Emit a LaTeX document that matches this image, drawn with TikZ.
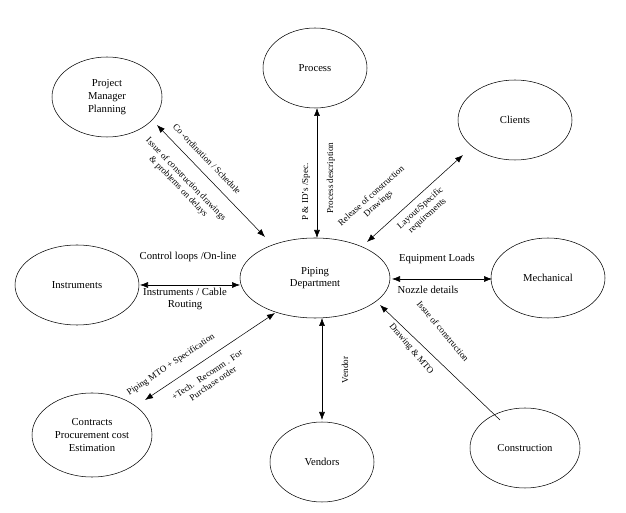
\documentclass[tikz,border=0pt]{standalone}
\usepackage{fontspec}
\setmainfont{Liberation Serif}
\usetikzlibrary{shapes.geometric,arrows.meta}
\begin{document}
\begin{tikzpicture}[x=0.75pt,y=-0.75pt,
  ell/.style={draw,ellipse,inner sep=0pt,minimum width=#1*0.75pt,minimum height=60pt,align=center,font=\fontsize{8}{9.5}\selectfont},
  arr/.style={{Latex[length=6pt,width=4.5pt]}-{Latex[length=6pt,width=4.5pt]}},
  lab/.style={font=\fontsize{8}{9.5}\selectfont,align=center,inner sep=1pt},
  rl/.style={font=\fontsize{6.8}{7.8}\selectfont,align=center,inner sep=0.5pt}]
\useasboundingbox (0,0) rectangle (626,513);
\node[ell=110] (pm) at (107,97) {Project\\Manager\\Planning};
\node[ell=104] (pr) at (315,68) {Process};
\node[ell=114] (cl) at (515,120) {Clients};
\node[ell=150] (pd) at (315,278) {Piping\\Department};
\node[ell=124] (in) at (77,285) {Instruments};
\node[ell=114] (me) at (548,278) {Mechanical};
\node[ell=120,minimum height=63pt] (co) at (92,435) {Contracts\\Procurement cost\\Estimation};
\node[ell=104] (ve) at (322,462) {Vendors};
\node[ell=110] (cn) at (525,448) {Construction};
\coordinate (a1) at (157,125); \coordinate (a2) at (265,237);
\coordinate (b1) at (317,108); \coordinate (b2) at (317,238);
\coordinate (c1) at (463,155); \coordinate (c2) at (367,242);
\coordinate (d1) at (140,285); \coordinate (d2) at (240,285);
\coordinate (e1) at (392,279); \coordinate (e2) at (492,279);
\coordinate (f1) at (145,400); \coordinate (f2) at (275,313);
\coordinate (g1) at (322,318); \coordinate (g2) at (322,420);
\coordinate (h1) at (380,305); \coordinate (h2) at (500,420);
\draw[arr] (a1) -- (a2);
\draw[arr] (b1) -- (b2);
\draw[arr] (c1) -- (c2);
\draw[arr] (d1) -- (d2);
\draw[arr] (e1) -- (e2);
\draw[arr] (f1) -- (f2);
\draw[arr] (g1) -- (g2);
\draw[-{Latex[length=6pt,width=4.5pt]}] (h2) -- (h1);
\node[lab] (l1) at (188,257) {Control loops /On-line};
\node[lab] (l2) at (185,299) {Instruments / Cable\\Routing};
\node[lab] (l3) at (437,259) {Equipment Loads};
\node[lab] (l4) at (428,290) {Nozzle details};
\node[rl,rotate=-46] (l5) at (207,159) {Co -ordination / Schedule};
\node[rl,rotate=-46] (l6) at (182,183) {Issue of construction drawings\\\& problems on delays};
\node[rl,rotate=90] (l7) at (306,192) {P \& ID's /Spec.};
\node[rl,rotate=90] (l8) at (331,178) {Process description};
\node[rl,rotate=42] (l9) at (375,200) {Release of construction\\Drawings};
\node[rl,rotate=42] (l10) at (424,212) {Layout/Specific\\requirements};
\node[rl,rotate=34] (l11) at (171,365) {Piping MTO + Specification};
\node[rl,rotate=34] (l12) at (210,379) {+Tech. \ Recomm . For\\Purchase order};
\node[rl,rotate=90] (l13) at (345,370) {Vendor};
\node[rl,rotate=-50] (l14) at (443,331) {Issue of construction};
\node[rl,rotate=-50] (l15) at (411,349) {Drawing \& MTO};
\end{tikzpicture}
\end{document}
